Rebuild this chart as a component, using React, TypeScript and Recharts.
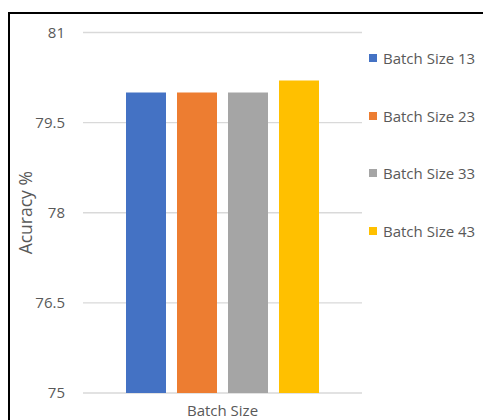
import React from "react";
import { BarChart, Bar, XAxis, YAxis, CartesianGrid, Label } from "recharts";

// Accuracy per batch size (single category group)
const categories = ["Batch Size"];
const seriesNames = ["Batch Size 13", "Batch Size 23", "Batch Size 33", "Batch Size 43"];
const seriesKeys = ["bs13", "bs23", "bs33", "bs43"];
const seriesValues = [80.0, 80.0, 80.0, 80.2];
const seriesColors = ["#4472C4", "#ED7D31", "#A5A5A5", "#FFC000"];
const yTicks = [75, 76.5, 78, 79.5, 81];

const data = categories.map((name) => {
  const row: Record<string, string | number> = { name };
  seriesKeys.forEach((k, i) => {
    row[k] = seriesValues[i];
  });
  return row;
});

const FONT = "'Open Sans', sans-serif";
const TEXT = "#595959";

const LegendBox = () => (
  <div style={{ position: "absolute", left: 369, top: 48, width: 114, fontFamily: FONT }}>
    {seriesNames.map((n, i) => (
      <div key={n} style={{ height: 57.5 }}>
        <div style={{ display: "flex", alignItems: "center", height: 20 }}>
          <span
            style={{
              display: "inline-block",
              width: 8,
              height: 8,
              background: seriesColors[i],
              marginRight: 6,
            }}
          />
          <span style={{ fontSize: 15, color: TEXT, whiteSpace: "nowrap" }}>{n}</span>
        </div>
      </div>
    ))}
  </div>
);

const YTitle = (props: any) => {
  const vb = props.viewBox || {};
  const cx = 25;
  const cy = vb.y + vb.height / 2;
  return (
    <text
      x={cx}
      y={cy}
      transform={`rotate(-90 ${cx} ${cy})`}
      textAnchor="middle"
      dominantBaseline="central"
      fill={TEXT}
      fontSize={17.5}
      fontFamily={FONT}
    >
      Acuracy %
    </text>
  );
};

export default function App() {
  return (
    <div
      style={{
        position: "absolute",
        left: 0,
        top: 0,
        width: 483,
        height: 420,
        overflow: "hidden",
        background: "#fff",
      }}
    >
      <div
        style={{
          position: "absolute",
          left: 8,
          top: 12,
          width: 520,
          height: 520,
          border: "2px solid #000",
          boxSizing: "border-box",
        }}
      />
      <BarChart
        width={483}
        height={420}
        data={data}
        margin={{ top: 32.5, right: 121, bottom: 0, left: 0 }}
        barSize={40}
        barGap={11}
        style={{ position: "absolute", left: 0, top: 0 }}
      >
        <CartesianGrid vertical={false} stroke="#D9D9D9" strokeWidth={1.3} />
        <XAxis
          dataKey="name"
          tick={false}
          tickLine={false}
          axisLine={false}
          height={27}
        >
          <Label
            value="Batch Size"
            position="insideBottom"
            offset={4}
            fill={TEXT}
            fontSize={15}
            fontFamily={FONT}
          />
        </XAxis>
        <YAxis
          domain={[75, 81]}
          ticks={yTicks}
          interval={0}
          width={83}
          axisLine={false}
          tickLine={false}
          tickMargin={12}
          tick={{ fill: TEXT, fontSize: 15, fontFamily: FONT }}
        >
          <Label content={<YTitle />} />
        </YAxis>
        {seriesKeys.map((k, i) => (
          <Bar
            key={k}
            dataKey={k}
            name={seriesNames[i]}
            fill={seriesColors[i]}
            isAnimationActive={false}
          />
        ))}
      </BarChart>
      <LegendBox />
    </div>
  );
}
